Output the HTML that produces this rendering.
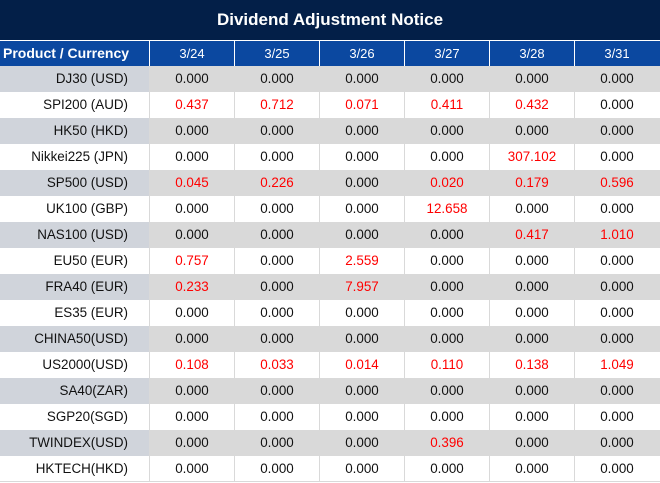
<!DOCTYPE html>
<html><head><meta charset="utf-8"><style>
*{margin:0;padding:0;box-sizing:border-box}
html,body{width:660px;height:483px;background:#fff;overflow:hidden;font-family:"Liberation Sans",Arial,sans-serif}
.title{position:absolute;left:0;top:0;width:660px;height:40px;background:#031f48;color:#fff;font-weight:bold;font-size:17px;text-align:center;line-height:40px}
.hdr{position:absolute;left:0;top:41px;width:660px;height:25px;background:#0b48a0;color:#fff;display:flex}
.hdr div{height:25px;line-height:25px;font-size:13px;text-align:center;width:85px;border-left:1px solid #fff}
.hdr div.f{width:149px;border-left:none;text-align:left;padding-left:3px;font-weight:bold;font-size:14px}
.row{position:absolute;left:0;width:660px;height:26px;display:flex;background:#fff}
.row div{height:26px;line-height:26px;font-size:13.4px;text-align:center;width:85px;border-left:1px solid #d9d9d9;color:#111}
.row div.f{width:149px;border-left:none;text-align:right;padding-right:21px;color:#111}
.row.g{background:#d9d9d9}
.row.g div.f{background:#d0d4db}
.r{color:#f00 !important}
.bot{position:absolute;left:0;top:481px;width:660px;height:1px;background:#d9d9d9}
</style></head><body>
<div class="title">Dividend Adjustment Notice</div>
<div class="hdr"><div class="f">Product / Currency</div><div>3/24</div><div>3/25</div><div>3/26</div><div>3/27</div><div>3/28</div><div>3/31</div></div>

<div class="row g" style="top:66px"><div class="f">DJ30 (USD)</div><div>0.000</div><div>0.000</div><div>0.000</div><div>0.000</div><div>0.000</div><div>0.000</div></div>
<div class="row" style="top:92px"><div class="f">SPI200 (AUD)</div><div class="r">0.437</div><div class="r">0.712</div><div class="r">0.071</div><div class="r">0.411</div><div class="r">0.432</div><div>0.000</div></div>
<div class="row g" style="top:118px"><div class="f">HK50 (HKD)</div><div>0.000</div><div>0.000</div><div>0.000</div><div>0.000</div><div>0.000</div><div>0.000</div></div>
<div class="row" style="top:144px"><div class="f">Nikkei225 (JPN)</div><div>0.000</div><div>0.000</div><div>0.000</div><div>0.000</div><div class="r">307.102</div><div>0.000</div></div>
<div class="row g" style="top:170px"><div class="f">SP500 (USD)</div><div class="r">0.045</div><div class="r">0.226</div><div>0.000</div><div class="r">0.020</div><div class="r">0.179</div><div class="r">0.596</div></div>
<div class="row" style="top:196px"><div class="f">UK100 (GBP)</div><div>0.000</div><div>0.000</div><div>0.000</div><div class="r">12.658</div><div>0.000</div><div>0.000</div></div>
<div class="row g" style="top:222px"><div class="f">NAS100 (USD)</div><div>0.000</div><div>0.000</div><div>0.000</div><div>0.000</div><div class="r">0.417</div><div class="r">1.010</div></div>
<div class="row" style="top:248px"><div class="f">EU50 (EUR)</div><div class="r">0.757</div><div>0.000</div><div class="r">2.559</div><div>0.000</div><div>0.000</div><div>0.000</div></div>
<div class="row g" style="top:274px"><div class="f">FRA40 (EUR)</div><div class="r">0.233</div><div>0.000</div><div class="r">7.957</div><div>0.000</div><div>0.000</div><div>0.000</div></div>
<div class="row" style="top:300px"><div class="f">ES35 (EUR)</div><div>0.000</div><div>0.000</div><div>0.000</div><div>0.000</div><div>0.000</div><div>0.000</div></div>
<div class="row g" style="top:326px"><div class="f">CHINA50(USD)</div><div>0.000</div><div>0.000</div><div>0.000</div><div>0.000</div><div>0.000</div><div>0.000</div></div>
<div class="row" style="top:352px"><div class="f">US2000(USD)</div><div class="r">0.108</div><div class="r">0.033</div><div class="r">0.014</div><div class="r">0.110</div><div class="r">0.138</div><div class="r">1.049</div></div>
<div class="row g" style="top:378px"><div class="f">SA40(ZAR)</div><div>0.000</div><div>0.000</div><div>0.000</div><div>0.000</div><div>0.000</div><div>0.000</div></div>
<div class="row" style="top:404px"><div class="f">SGP20(SGD)</div><div>0.000</div><div>0.000</div><div>0.000</div><div>0.000</div><div>0.000</div><div>0.000</div></div>
<div class="row g" style="top:430px"><div class="f">TWINDEX(USD)</div><div>0.000</div><div>0.000</div><div>0.000</div><div class="r">0.396</div><div>0.000</div><div>0.000</div></div>
<div class="row" style="top:456px"><div class="f">HKTECH(HKD)</div><div>0.000</div><div>0.000</div><div>0.000</div><div>0.000</div><div>0.000</div><div>0.000</div></div>
<div class="bot"></div>
</body></html>
